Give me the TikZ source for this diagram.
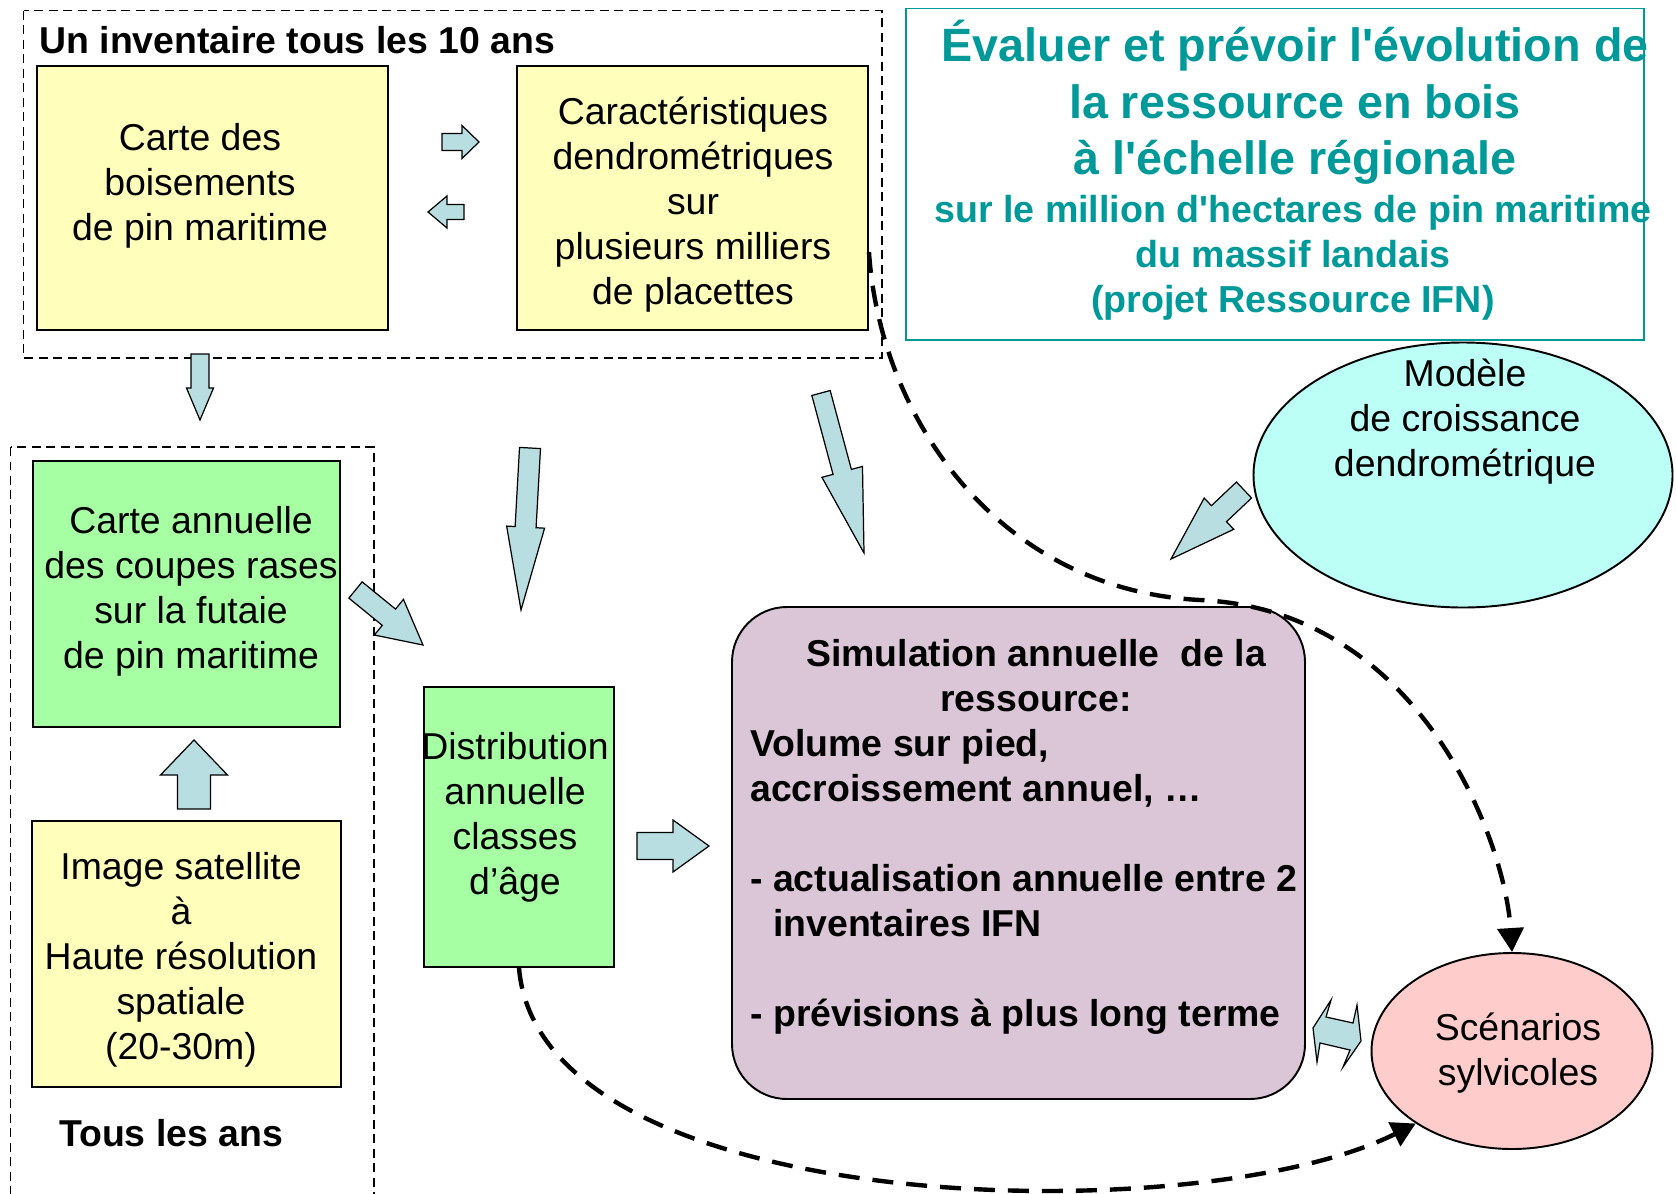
\documentclass[tikz,border=0pt]{standalone}
\usepackage{fontspec}
\setmainfont{Liberation Sans}
\usetikzlibrary{arrows.meta, calc, shapes.geometric}

\definecolor{mapyellow}{RGB}{255,255,187}
\definecolor{mapgreen}{RGB}{166,255,162}
\definecolor{simmauve}{RGB}{218,198,214}
\definecolor{modelcyan}{RGB}{187,255,247}
\definecolor{scenpink}{RGB}{255,204,204}
\definecolor{titleteal}{RGB}{0,153,153}
\definecolor{arrowblue}{RGB}{185,222,226}

\begin{document}
\begin{tikzpicture}[x=0.02cm, y=-0.02cm,
    every node/.style={inner sep=0pt, font=\fontsize{21.3}{25.6}\selectfont},
    databox/.style={draw, line width=1.1pt},
    txt/.style={align=center},
    boldtxt/.style={font=\bfseries\fontsize{21.3}{25.6}\selectfont},
    frame/.style={line width=0.9pt, dash pattern=on 0.18cm off 0.11cm},
    blockarrow/.style={draw, line width=0.7pt, fill=arrowblue, line join=miter},
    flow/.style={line width=2.5pt, dash pattern=on 0.42cm off 0.26cm,
      -{Triangle[length=0.48cm, width=0.52cm]}}]

  \def\pxu{0.02cm} % one pixel of the slide
  % block arrow: tail, tip, shaft width, head width, head length (pixels)
  \def\blockarrow(#1)(#2)#3#4#5{%
    \pgfmathsetlengthmacro\shaftw{#3*\pxu/2}%
    \pgfmathsetlengthmacro\headw{#4*\pxu/2}%
    \pgfmathsetlengthmacro\headl{#5*\pxu}%
    \coordinate (ba-s) at (#1);
    \coordinate (ba-e) at (#2);
    \coordinate (ba-b) at ($(ba-e)!\headl!(ba-s)$);
    \draw[blockarrow]
      ($(ba-s)!\shaftw!90:(ba-e)$) -- ($(ba-b)!\shaftw!90:(ba-e)$) --
      ($(ba-b)!\headw!90:(ba-e)$) -- (ba-e) --
      ($(ba-b)!\headw!-90:(ba-e)$) -- ($(ba-b)!\shaftw!-90:(ba-e)$) --
      ($(ba-s)!\shaftw!-90:(ba-e)$) -- cycle;
  }

  \useasboundingbox (0,0) rectangle (1676,1193);

  % Inventory every ten years
  \draw[frame] (23.5,10.7) rectangle (882,358);
  \node[boldtxt, anchor=west] (inv) at (39,40) {Un inventaire tous les 10 ans};
  \node[databox, fill=mapyellow, minimum width=351*\pxu, minimum height=264*\pxu] (carte) at (212.5,198) {};
  \node[txt] (carteTxt) at (200,186) {Carte des\\boisements\\de pin maritime};
  \node[databox, fill=mapyellow, minimum width=351*\pxu, minimum height=264*\pxu] (caract) at (692.5,198) {};
  \node[txt] (caractTxt) at (693,205)
    {Caractéristiques\\dendrométriques\\sur\\plusieurs milliers\\de placettes};

  % Every year
  \draw[frame] (10.7,447) rectangle (374,1215);
  \node[databox, fill=mapgreen, minimum width=307*\pxu, minimum height=266*\pxu] (coupes) at (186.5,594) {};
  \node[txt] (coupesTxt) at (191,591) {Carte annuelle\\des coupes rases\\sur la futaie\\de pin maritime};
  \node[databox, fill=mapyellow, minimum width=309*\pxu, minimum height=266*\pxu] (satellite) at (186.5,954) {};
  \node[txt] (satelliteTxt) at (181,960) {Image satellite\\à\\Haute résolution\\spatiale\\(20-30m)};
  \node[boldtxt] (annual) at (171,1133) {Tous les ans};

  % Age classes and simulation
  \node[databox, fill=mapgreen, minimum width=190*\pxu, minimum height=280*\pxu] (distrib) at (519,827) {};
  \node[txt] (distribTxt) at (515,817) {Distribution\\annuelle\\classes\\d’âge};
  \node[databox, fill=simmauve, rounded corners=1.1cm, minimum width=573*\pxu, minimum height=492*\pxu] (sim) at (1018.5,853) {};
  \node[txt, boldtxt] (simHead) at (1036,675.5) {Simulation annuelle\ \ de la\\ressource:};
  \node[boldtxt, align=left, anchor=west] (simBody) at (750,882)
    {Volume sur pied,\\accroissement annuel, …\\[25.6pt]- actualisation annuelle entre 2\\\phantom{- }inventaires IFN\\[25.6pt]- prévisions à plus long terme};

  % Title
  \draw[titleteal, line width=1.1pt] (906,8.5) rectangle (1644,340);
  \node[txt, text=titleteal, font=\bfseries\fontsize{26.6}{32.2}\selectfont] (title) at (1295,102.5)
    {Évaluer et prévoir l\textquotesingle évolution de\\la ressource en bois\\à l\textquotesingle échelle régionale};
  \node[txt, text=titleteal, font=\bfseries\fontsize{21.4}{25.6}\selectfont] (subtitle) at (1293,258)
    {sur le million d\textquotesingle hectares de pin maritime\\du massif landais\\(projet Ressource IFN)};

  % Growth model and scenarios
  \node[ellipse, draw, line width=1.1pt, fill=modelcyan, minimum width=419*\pxu, minimum height=265*\pxu] (model) at (1463,475) {};
  \node[txt] (modelTxt) at (1465,422) {Modèle\\de croissance\\dendrométrique};
  \node[ellipse, draw, line width=1.1pt, fill=scenpink, minimum width=281*\pxu, minimum height=196*\pxu] (scen) at (1512,1051) {};
  \node[txt] (scenTxt) at (1518,1053) {Scénarios\\sylvicoles};

  % Block arrows
  \blockarrow(442,142)(479,142){17}{33}{17}
  \blockarrow(464,212)(428,212){15}{32}{19}
  \blockarrow(200,354)(200,420){18}{27}{32}
  \blockarrow(194,809)(194,740){33}{67}{35}
  \blockarrow(355.5,590)(423,645){21}{46}{44}
  \blockarrow(530,448)(521,610){21}{38}{83}
  \blockarrow(821,393)(864,553){19}{42}{84}
  \blockarrow(637,846)(709,846){27}{52}{36}
  \blockarrow(1244,490)(1171,559){22}{43}{66}
  \draw[blockarrow] (1313,1028) -- (1331,1000) -- (1326,1017) -- (1353,1023) -- (1357,1005) -- (1361,1041)
    -- (1343,1067) -- (1350,1050) -- (1320,1043) -- (1317,1062) -- cycle;

  % Dashed links to the scenarios
  \coordinate (bend) at (1200,600);
  \draw[flow] (caract.-17) .. controls (880,420) and (1000,590) .. (bend)
    .. controls (1420,610) and (1505,840) .. (scen.north);
  \draw[flow] (distrib.south) .. controls (540,1220) and (1200,1232) .. (scen.217);

\end{tikzpicture}
\end{document}
